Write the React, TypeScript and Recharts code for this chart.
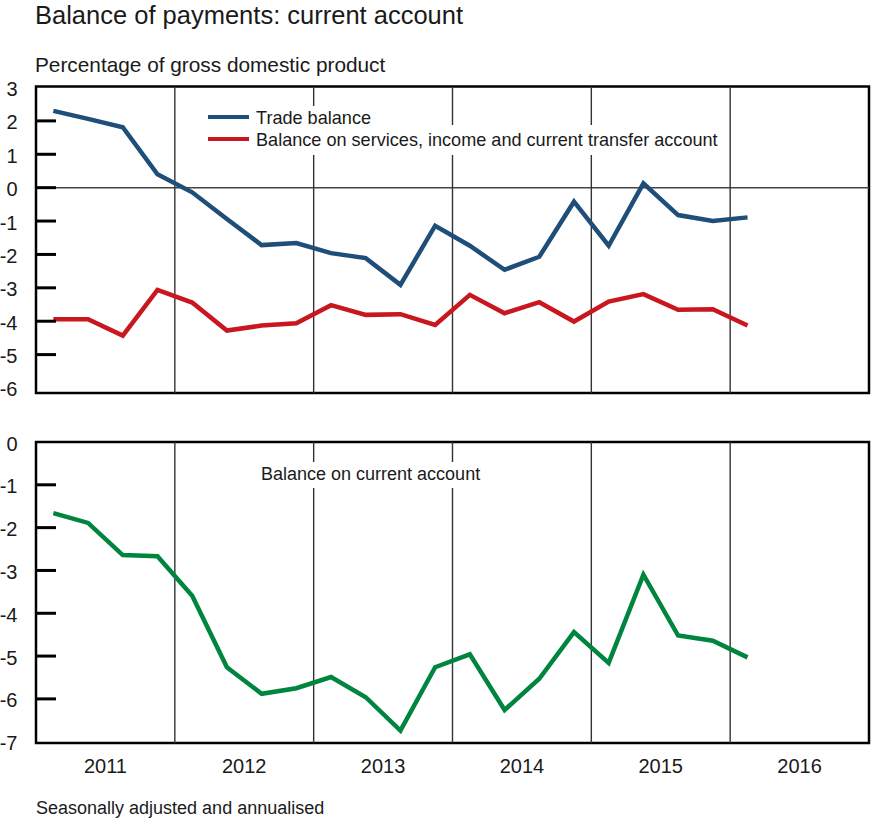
import React from 'react';
import { LineChart, Line, XAxis, YAxis, ReferenceLine, ReferenceArea } from 'recharts';

const quarters = [
  '2011Q1', '2011Q2', '2011Q3', '2011Q4',
  '2012Q1', '2012Q2', '2012Q3', '2012Q4',
  '2013Q1', '2013Q2', '2013Q3', '2013Q4',
  '2014Q1', '2014Q2', '2014Q3', '2014Q4',
  '2015Q1', '2015Q2', '2015Q3', '2015Q4',
  '2016Q1',
];
const tradeBalance = [2.30, 2.06, 1.81, 0.40, -0.14, -0.94, -1.72, -1.66, -1.96, -2.11, -2.91, -1.14, -1.74, -2.46, -2.07, -0.42, -1.74, 0.13, -0.82, -1.00, -0.89];
const servicesBalance = [-3.94, -3.94, -4.43, -3.06, -3.44, -4.28, -4.13, -4.06, -3.52, -3.81, -3.79, -4.11, -3.21, -3.76, -3.43, -4.01, -3.41, -3.19, -3.66, -3.64, -4.13];
const currentAccount = [-1.66, -1.89, -2.64, -2.67, -3.59, -5.26, -5.88, -5.75, -5.49, -5.96, -6.74, -5.26, -4.96, -6.26, -5.53, -4.44, -5.16, -3.10, -4.52, -4.64, -5.03];

const years = ['2011', '2012', '2013', '2014', '2015', '2016'];
const topTicks = [3, 2, 1, 0, -1, -2, -3, -4, -5, -6];
const bottomTicks = [0, -1, -2, -3, -4, -5, -6, -7];

const QUARTERS_PER_YEAR = 4;
const xMax = years.length * QUARTERS_PER_YEAR;
const yearBoundaries = years.slice(1).map((_, i) => (i + 1) * QUARTERS_PER_YEAR);
const yearCenters = years.map((_, i) => i * QUARTERS_PER_YEAR + QUARTERS_PER_YEAR / 2);

const data = quarters.map((q, i) => ({
  q,
  x: i + 0.5,
  trade: tradeBalance[i],
  services: servicesBalance[i],
  current: currentAccount[i],
}));

const BLUE = '#1f4e79';
const RED = '#c8171f';
const GREEN = '#00853f';
const TEXT = '#1a1a1a';

const TOP_DOMAIN: [number, number] = [-6.15, 3.03];
const BOTTOM_DOMAIN: [number, number] = [-7.03, 0];

const makeYTick = (lo: number, hi: number) => (props: any) => {
  const { x, y, payload } = props;
  const v = Number(payload.value);
  const inner = v > lo + 0.5 && v < hi - 0.5;
  return (
    <g>
      {inner && <line x1={x} x2={x + 20} y1={y} y2={y} stroke="#000" strokeWidth={3} />}
      <text x={x - 18.5} y={y} dy={8.5} textAnchor="end" fontSize={20} fill={TEXT}>
        {payload.value}
      </text>
    </g>
  );
};

const yearLabel = (v: number) => years[Math.floor(v / QUARTERS_PER_YEAR)];

export default function App() {
  return (
    <div
      style={{
        position: 'absolute',
        left: 0,
        top: 0,
        width: 871,
        height: 821,
        background: '#fff',
        fontFamily: '"Liberation Sans", Arial, sans-serif',
        color: TEXT,
      }}
    >
      <div style={{ position: 'absolute', left: 35, top: 2.5, fontSize: 25.5, lineHeight: 1, whiteSpace: 'nowrap' }}>
        Balance of payments: current account
      </div>
      <div style={{ position: 'absolute', left: 35, top: 55.0, fontSize: 20.8, lineHeight: 1, whiteSpace: 'nowrap' }}>
        Percentage of gross domestic product
      </div>

      <div style={{ position: 'absolute', left: 0, top: 70 }}>
        <LineChart width={871} height={330} data={data} margin={{ top: 16.5, right: 2, bottom: 7, left: 0 }}>
          <XAxis dataKey="x" type="number" domain={[0, xMax]} hide />
          <YAxis
            type="number"
            domain={TOP_DOMAIN}
            ticks={topTicks}
            allowDataOverflow
            width={36}
            axisLine={false}
            tickLine={false}
            tickSize={0}
            tickMargin={0}
            interval={0}
            tick={makeYTick(TOP_DOMAIN[0], TOP_DOMAIN[1])}
          />
          <ReferenceLine y={0} stroke="#444" strokeWidth={1.5} />
          {yearBoundaries.map((b) => (
            <ReferenceLine key={b} x={b} stroke="#333" strokeWidth={1.4} />
          ))}
          <Line type="linear" dataKey="trade" stroke={BLUE} strokeWidth={4.5} dot={false} isAnimationActive={false} />
          <Line type="linear" dataKey="services" stroke={RED} strokeWidth={4.5} dot={false} isAnimationActive={false} />
          <ReferenceArea
            x1={0}
            x2={xMax}
            y1={TOP_DOMAIN[0]}
            y2={TOP_DOMAIN[1]}
            fill="none"
            fillOpacity={0}
            stroke="#000"
            strokeWidth={2.5}
            ifOverflow="visible"
          />
        </LineChart>
      </div>

      {/* legend of top panel */}
      <div style={{ position: 'absolute', left: 203, top: 106, width: 168, height: 19, background: '#fff' }} />
      <div style={{ position: 'absolute', left: 203, top: 125, width: 522, height: 30, background: '#fff' }} />
      <div style={{ position: 'absolute', left: 208, top: 114.8, width: 41, height: 4.5, background: BLUE }} />
      <div style={{ position: 'absolute', left: 208, top: 136.8, width: 41, height: 4.5, background: RED }} />
      <div style={{ position: 'absolute', left: 256, top: 108.8, fontSize: 18.1, lineHeight: 1, whiteSpace: 'nowrap' }}>
        Trade balance
      </div>
      <div style={{ position: 'absolute', left: 256, top: 130.8, fontSize: 18.1, lineHeight: 1, whiteSpace: 'nowrap' }}>
        Balance on services, income and current transfer account
      </div>

      <div style={{ position: 'absolute', left: 0, top: 426 }}>
        <LineChart width={871} height={355} data={data} margin={{ top: 16, right: 2, bottom: 8, left: 0 }}>
          <XAxis
            dataKey="x"
            type="number"
            domain={[0, xMax]}
            ticks={yearCenters}
            tickFormatter={yearLabel}
            interval={0}
            axisLine={false}
            tickLine={false}
            tickSize={0}
            tickMargin={16}
            height={30}
            tick={{ fontSize: 20, fill: TEXT }}
          />
          <YAxis
            type="number"
            domain={BOTTOM_DOMAIN}
            ticks={bottomTicks}
            allowDataOverflow
            width={36}
            axisLine={false}
            tickLine={false}
            tickSize={0}
            tickMargin={0}
            interval={0}
            tick={makeYTick(BOTTOM_DOMAIN[0], BOTTOM_DOMAIN[1])}
          />
          {yearBoundaries.map((b) => (
            <ReferenceLine key={b} x={b} stroke="#333" strokeWidth={1.4} />
          ))}
          <Line type="linear" dataKey="current" stroke={GREEN} strokeWidth={4.5} dot={false} isAnimationActive={false} />
          <ReferenceArea
            x1={0}
            x2={xMax}
            y1={BOTTOM_DOMAIN[0]}
            y2={BOTTOM_DOMAIN[1]}
            fill="none"
            fillOpacity={0}
            stroke="#000"
            strokeWidth={2.5}
            ifOverflow="visible"
          />
        </LineChart>
      </div>

      <div style={{ position: 'absolute', left: 255, top: 462, width: 235, height: 26, background: '#fff' }} />
      <div style={{ position: 'absolute', left: 261, top: 464.8, fontSize: 18, lineHeight: 1, whiteSpace: 'nowrap' }}>
        Balance on current account
      </div>

      <div style={{ position: 'absolute', left: 36, top: 798.8, fontSize: 18, lineHeight: 1, whiteSpace: 'nowrap' }}>
        Seasonally adjusted and annualised
      </div>
    </div>
  );
}
